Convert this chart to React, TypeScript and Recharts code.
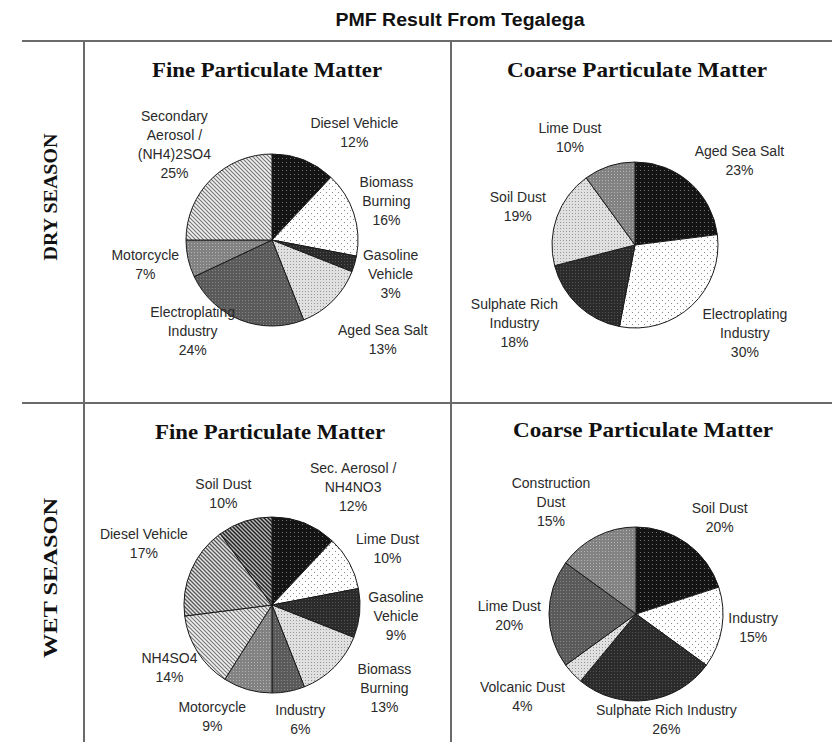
import React from "react";
import { PieChart, Pie, Cell } from "recharts";

// source shares (%), listed clockwise from 12 o'clock
const fineDryNames = [
  "Diesel Vehicle",
  "Biomass\nBurning",
  "Gasoline\nVehicle",
  "Aged Sea Salt",
  "Electroplating\nIndustry",
  "Motorcycle",
  "Secondary\nAerosol /\n(NH4)2SO4",
];
const fineDryValues = [12, 16, 3, 13, 24, 7, 25];

const coarseDryNames = [
  "Aged Sea Salt",
  "Electroplating\nIndustry",
  "Sulphate Rich\nIndustry",
  "Soil Dust",
  "Lime Dust",
];
const coarseDryValues = [23, 30, 18, 19, 10];

const fineWetNames = [
  "Sec. Aerosol /\nNH4NO3",
  "Lime Dust",
  "Gasoline\nVehicle",
  "Biomass\nBurning",
  "Industry",
  "Motorcycle",
  "NH4SO4",
  "Diesel Vehicle",
  "Soil Dust",
];
const fineWetValues = [12, 10, 9, 13, 6, 9, 14, 17, 10];

const coarseWetNames = [
  "Soil Dust",
  "Industry",
  "Sulphate Rich Industry",
  "Volcanic Dust",
  "Lime Dust",
  "Construction\nDust",
];
const coarseWetValues = [20, 15, 26, 4, 20, 15];

// fill pattern ids per slice
const fineDryFills = ["blackDots", "whiteDots", "darkDots", "lightDots", "dgrayDots", "mgrayDots", "hatchLight"];
const coarseDryFills = ["blackDots", "whiteDots", "darkDots", "lightDots", "mgrayDots"];
const fineWetFills = ["blackDots", "whiteDots", "darkDots", "lightDots", "dgrayDots", "mgrayDots", "hatchLight", "hatchMid", "hatchDark"];
const coarseWetFills = ["blackDots", "whiteDots", "darkDots", "lightDots", "dgrayDots", "mgrayDots"];

// hand-placed label offsets (px) on top of the automatic outside placement
const fineDryShift = [[13, 0], [0, 0], [0, 0], [0, 19], [-10, -24], [0, 0], [0, 0]];
const coarseDryShift = [[0, 0], [0, 0], [-14, -10], [0, 0], [-18, 0]];
const fineWetShift = [[11, 0], [0, 0], [0, 0], [20, -6], [0, 0], [-14, 0], [0, 0], [8, -15], [0, 0]];
const coarseWetShift = [[-3, -2], [-5, -4], [0, -9], [0, 4], [0, 2], [-5, 0]];

const SANS = "'Liberation Sans', Arial, sans-serif";
const SERIF = "'Liberation Serif', 'Times New Roman', serif";
const LINE = 19;

const renderLabel = (props: any, shift?: number[][]) => {
  const { cx, cy, midAngle, outerRadius, index } = props;
  const name = props.payload?.name ?? props.name;
  const value = props.payload?.value ?? props.value;
  const lines = [...String(name).split("\n"), `${value}%`];
  const rad = (midAngle * Math.PI) / 180;
  const cos = Math.cos(rad);
  const sin = Math.sin(rad);
  const r = outerRadius + 10;
  const px = cx + r * cos;
  const py = cy - r * sin;
  const w = Math.max(...lines.map((l) => l.length)) * 6.6;
  const h = lines.length * LINE;
  const k = Math.max(-1, Math.min(1, 2 * cos));
  const [dx, dy] = shift?.[index] ?? [0, 0];
  const x = px + (w / 2) * k + dx;
  const top = py - (h / 2) * sin - h / 2 + dy;
  return (
    <text textAnchor="middle" fontSize={14} fill="#2a2a2a" fontFamily={SANS}>
      {lines.map((l, i) => (
        <tspan key={i} x={x} y={top + 14 + i * LINE}>
          {l}
        </tspan>
      ))}
    </text>
  );
};

type PanelProps = {
  names: string[];
  values: number[];
  fills: string[];
  shift?: number[][];
  left: number;
  top: number;
  width: number;
  height: number;
  cx: number;
  cy: number;
  r: number;
};

const SourcePie = ({ names, values, fills, shift, left, top, width, height, cx, cy, r }: PanelProps) => {
  const data = names.map((name, i) => ({ name, value: values[i] }));
  return (
    <div style={{ position: "absolute", left, top, width, height }}>
      <PieChart width={width} height={height}>
        <Pie
          data={data}
          dataKey="value"
          nameKey="name"
          cx={cx}
          cy={cy}
          outerRadius={r}
          startAngle={90}
          endAngle={-270}
          stroke="#1a1a1a"
          strokeWidth={1}
          labelLine={false}
          label={(p: any) => renderLabel(p, shift)}
          isAnimationActive={false}
        >
          {data.map((d, i) => (
            <Cell key={d.name} fill={`url(#${fills[i]})`} />
          ))}
        </Pie>
      </PieChart>
    </div>
  );
};

const dots = (id: string, size: number, bg: string, dot: string) => (
  <pattern id={id} width={size} height={size} patternUnits="userSpaceOnUse">
    <rect width={size} height={size} fill={bg} />
    <rect x={1} y={1} width={1} height={1} fill={dot} />
  </pattern>
);

const hatch = (id: string, bg: string, line: string, lw: number) => (
  <pattern id={id} width={4} height={4} patternUnits="userSpaceOnUse">
    <rect width={4} height={4} fill={bg} />
    <path d="M0,0 L4,4 M3,-1 L5,1 M-1,3 L1,5" stroke={line} strokeWidth={lw} />
  </pattern>
);

export default function App() {
  return (
    <div style={{ position: "absolute", left: 0, top: 0, width: 832, height: 742, background: "#fff" }}>
      <svg width={832} height={742} style={{ position: "absolute", left: 0, top: 0 }}>
        <defs>
          {dots("blackDots", 4, "#141414", "#707070")}
          {dots("darkDots", 3, "#2b2b2b", "#555")}
          {dots("dgrayDots", 3, "#5a5a5a", "#888")}
          {dots("mgrayDots", 3, "#828282", "#b4b4b4")}
          {dots("lightDots", 3, "#e0e0e0", "#999")}
          <pattern id="whiteDots" width={6} height={6} patternUnits="userSpaceOnUse">
            <rect width={6} height={6} fill="#fff" />
            <rect x={1} y={1} width={1} height={1} fill="#888" />
            <rect x={4} y={4} width={1} height={1} fill="#888" />
          </pattern>
          {hatch("hatchLight", "#f2f2f2", "#777", 1.2)}
          {hatch("hatchMid", "#e6e6e6", "#555", 1.3)}
          {hatch("hatchDark", "#bdbdbd", "#222", 1.5)}
        </defs>

        <text x={460} y={26} textAnchor="middle" fontFamily={SANS} fontWeight="bold" fontSize={18} fill="#111"
          textLength={249} lengthAdjust="spacingAndGlyphs">
          PMF Result From Tegalega
        </text>

        {/* table rules */}
        <g stroke="#6a6a6a" strokeWidth={2}>
          <line x1={22} y1={41} x2={832} y2={41} />
          <line x1={22} y1={403} x2={832} y2={403} />
          <line x1={84} y1={40} x2={84} y2={742} />
          <line x1={451} y1={40} x2={451} y2={742} />
        </g>

        <g fontFamily={SERIF} fontWeight="bold" fill="#111">
          <text transform="translate(57,197) rotate(-90)" textAnchor="middle" fontSize={19}
            textLength={127} lengthAdjust="spacingAndGlyphs">
            DRY SEASON
          </text>
          <text transform="translate(57,578) rotate(-90)" textAnchor="middle" fontSize={19}
            textLength={160} lengthAdjust="spacingAndGlyphs">
            WET SEASON
          </text>
          <text x={267} y={77} textAnchor="middle" fontSize={21} textLength={230} lengthAdjust="spacingAndGlyphs">
            Fine Particulate Matter
          </text>
          <text x={637} y={77} textAnchor="middle" fontSize={21} textLength={260} lengthAdjust="spacingAndGlyphs">
            Coarse Particulate Matter
          </text>
          <text x={270} y={439} textAnchor="middle" fontSize={21} textLength={230} lengthAdjust="spacingAndGlyphs">
            Fine Particulate Matter
          </text>
          <text x={643} y={437} textAnchor="middle" fontSize={21} textLength={260} lengthAdjust="spacingAndGlyphs">
            Coarse Particulate Matter
          </text>
        </g>
      </svg>

      <SourcePie names={fineDryNames} values={fineDryValues} fills={fineDryFills} shift={fineDryShift}
        left={85} top={41} width={366} height={362} cx={182} cy={194} r={86} />
      <SourcePie names={coarseDryNames} values={coarseDryValues} fills={coarseDryFills} shift={coarseDryShift}
        left={451} top={41} width={381} height={362} cx={179} cy={199} r={83} />
      <SourcePie names={fineWetNames} values={fineWetValues} fills={fineWetFills} shift={fineWetShift}
        left={85} top={403} width={366} height={339} cx={182} cy={197} r={88} />
      <SourcePie names={coarseWetNames} values={coarseWetValues} fills={coarseWetFills} shift={coarseWetShift}
        left={451} top={403} width={381} height={339} cx={180} cy={206} r={87} />
    </div>
  );
}
